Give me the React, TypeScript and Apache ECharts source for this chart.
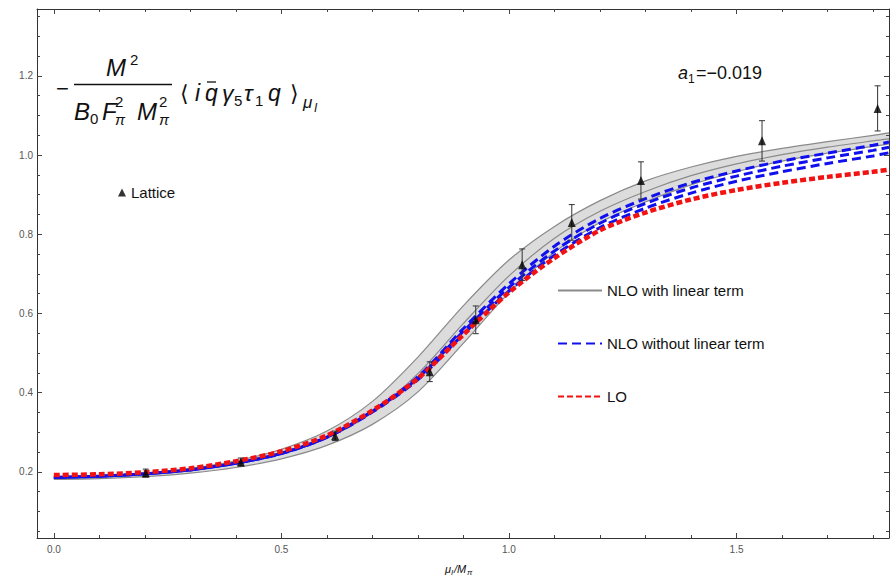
import React, { useEffect, useRef } from "react";
import * as echarts from "echarts";

// ---- data ----
const xs = [0, 0.1, 0.2, 0.3, 0.4, 0.5, 0.6, 0.7, 0.8, 0.9, 1.0, 1.1, 1.2, 1.3, 1.4, 1.5, 1.6, 1.7, 1.8, 1.835];

const bandUpper = [0.186, 0.189, 0.197, 0.209, 0.228, 0.257, 0.303, 0.378, 0.49, 0.62, 0.735, 0.82, 0.885, 0.935, 0.97, 0.997, 1.017, 1.034, 1.05, 1.056];
const nloCenter = [0.184, 0.187, 0.193, 0.204, 0.22, 0.245, 0.285, 0.35, 0.448, 0.575, 0.695, 0.79, 0.858, 0.908, 0.948, 0.978, 1.001, 1.02, 1.036, 1.041];
const bandLower = [0.181, 0.183, 0.188, 0.197, 0.211, 0.233, 0.267, 0.32, 0.402, 0.525, 0.652, 0.755, 0.83, 0.882, 0.925, 0.958, 0.985, 1.005, 1.022, 1.028];

const blueUpper = [0.186, 0.189, 0.195, 0.205, 0.222, 0.247, 0.288, 0.354, 0.44, 0.562, 0.675, 0.77, 0.84, 0.89, 0.93, 0.96, 0.985, 1.005, 1.025, 1.033];
const blueMid = [0.186, 0.189, 0.195, 0.205, 0.222, 0.247, 0.288, 0.353, 0.437, 0.555, 0.666, 0.758, 0.828, 0.878, 0.917, 0.947, 0.972, 0.993, 1.012, 1.02];
const blueLower = [0.186, 0.189, 0.195, 0.205, 0.222, 0.246, 0.287, 0.351, 0.433, 0.548, 0.657, 0.747, 0.817, 0.866, 0.904, 0.934, 0.958, 0.979, 0.998, 1.006];

const loCurve = [0.192, 0.194, 0.199, 0.209, 0.227, 0.252, 0.292, 0.355, 0.436, 0.547, 0.653, 0.74, 0.81, 0.855, 0.888, 0.912, 0.93, 0.945, 0.958, 0.963];

const latticeX = [0.202, 0.411, 0.618, 0.826, 0.927, 1.029, 1.138, 1.29, 1.556, 1.81];
const latticeY = [0.197, 0.225, 0.291, 0.453, 0.584, 0.723, 0.83, 0.936, 1.036, 1.118];
const latticeErr = [0.01, 0.01, 0.012, 0.025, 0.035, 0.04, 0.045, 0.047, 0.051, 0.057];

const xMajor = [0, 0.5, 1.0, 1.5];
const xMinor = [0.1, 0.2, 0.3, 0.4, 0.6, 0.7, 0.8, 0.9, 1.1, 1.2, 1.3, 1.4, 1.6, 1.7, 1.8];
const yMajor = [0.2, 0.4, 0.6, 0.8, 1.0, 1.2];
const yMinor = [0.05, 0.1, 0.15, 0.25, 0.3, 0.35, 0.45, 0.5, 0.55, 0.65, 0.7, 0.75, 0.85, 0.9, 0.95, 1.05, 1.1, 1.15, 1.25, 1.3, 1.35];

const X_MIN = -0.037;
const X_MAX = 1.835;
const Y_MIN = 0.033;
const Y_MAX = 1.369;

const FONT = '"Liberation Sans", Arial, sans-serif';
const SMOOTH = 0.3;

const pts = (ys: number[]) => xs.map((x, i) => [x, ys[i]]);

function makeX(position: "top" | "bottom", major: boolean, labels: boolean) {
  return {
    type: "value",
    position,
    min: X_MIN,
    max: X_MAX,
    z: 10,
    axisLine: { show: major, onZero: false, lineStyle: { color: "#333", width: 1 } },
    axisTick: {
      show: true,
      inside: true,
      length: major ? 5 : 3,
      customValues: major ? xMajor : xMinor,
      lineStyle: { color: "#444", width: 1 },
    },
    axisLabel: labels
      ? {
          show: true,
          customValues: xMajor,
          formatter: (v: number) => v.toFixed(1),
          color: "#555",
          fontSize: 10,
          fontFamily: FONT,
          margin: 6,
        }
      : { show: false },
    splitLine: { show: false },
  };
}

function makeY(position: "left" | "right", major: boolean, labels: boolean) {
  return {
    type: "value",
    position,
    min: Y_MIN,
    max: Y_MAX,
    z: 10,
    axisLine: { show: major, onZero: false, lineStyle: { color: "#333", width: 1 } },
    axisTick: {
      show: true,
      inside: true,
      length: major ? 5 : 3,
      customValues: major ? yMajor : yMinor,
      lineStyle: { color: "#444", width: 1 },
    },
    axisLabel: labels
      ? {
          show: true,
          customValues: yMajor,
          formatter: (v: number) => v.toFixed(1),
          color: "#555",
          fontSize: 10,
          fontFamily: FONT,
          margin: 4,
        }
      : { show: false },
    splitLine: { show: false },
  };
}

function txt(text: string, x: number, y: number, size: number, italic = false, family = FONT) {
  return {
    type: "text",
    x,
    y,
    silent: true,
    style: {
      text,
      font: `${italic ? "italic " : ""}${size}px ${family}`,
      fill: "#111",
      textAlign: "left",
      textVerticalAlign: "middle",
      verticalAlign: "middle",
    },
  };
}

export default function App() {
  const ref = useRef<HTMLDivElement>(null);

  useEffect(() => {
    if (!ref.current) return;
    const chart = echarts.init(ref.current, undefined, { renderer: "svg" });

    const gray = "#8a8a8a";
    const blue = "#1010ee";
    const red = "#f21212";

    const blueStyle = { color: blue, width: 3, type: [9, 5] as any };

    const option: any = {
      animation: false,
      backgroundColor: "#fff",
      grid: { left: 37, right: 1, top: 9, bottom: 39, containLabel: false },
      xAxis: [
        makeX("bottom", true, true),
        makeX("bottom", false, false),
        makeX("top", true, false),
        makeX("top", false, false),
      ],
      yAxis: [
        makeY("left", true, true),
        makeY("left", false, false),
        makeY("right", true, false),
        makeY("right", false, false),
      ],
      legend: [
        {
          data: ["NLO with linear term", "NLO without linear term", "LO"],
          orient: "vertical",
          left: 557,
          top: 283,
          padding: 0,
          itemWidth: 44,
          itemHeight: 14,
          itemGap: 38,
          selectedMode: false,
          itemStyle: { opacity: 0 },
          textStyle: { fontSize: 15, fontFamily: FONT, color: "#111" },
        },
        {
          data: ["Lattice"],
          left: 118,
          top: 185,
          padding: 0,
          itemWidth: 8,
          itemHeight: 8,
          selectedMode: false,
          textStyle: { fontSize: 15, fontFamily: FONT, color: "#111" },
        },
      ],
      series: [
        {
          name: "NLO band",
          type: "custom",
          data: [[0, 0]],
          encode: { x: 0, y: 1 },
          silent: true,
          z: 1,
          renderItem: (params: any, api: any) => {
            const up = xs.map((x, i) => api.coord([x, bandUpper[i]]));
            const lo = xs.map((x, i) => api.coord([x, bandLower[i]]));
            const poly = up.concat(lo.slice().reverse());
            return {
              type: "group",
              children: [
                { type: "polygon", shape: { points: poly, smooth: SMOOTH }, style: { fill: "#dcdcdc", stroke: "none" } },
                { type: "polyline", shape: { points: up, smooth: SMOOTH }, style: { stroke: gray, lineWidth: 1.2, fill: "none" } },
                { type: "polyline", shape: { points: lo, smooth: SMOOTH }, style: { stroke: gray, lineWidth: 1.2, fill: "none" } },
              ],
            };
          },
        },
        {
          name: "NLO with linear term",
          type: "line",
          data: pts(nloCenter),
          symbol: "none",
          smooth: SMOOTH,
          lineStyle: { color: gray, width: 1.2 },
          itemStyle: { color: gray },
        },
        {
          name: "NLO without linear term",
          type: "line",
          data: pts(blueUpper),
          symbol: "none",
          smooth: SMOOTH,
          lineStyle: blueStyle,
          itemStyle: { color: blue },
        },
        {
          name: "NLO without linear term",
          type: "line",
          data: pts(blueMid),
          symbol: "none",
          smooth: SMOOTH,
          lineStyle: { ...blueStyle, dashOffset: 5 },
          itemStyle: { color: blue },
        },
        {
          name: "NLO without linear term",
          type: "line",
          data: pts(blueLower),
          symbol: "none",
          smooth: SMOOTH,
          lineStyle: { ...blueStyle, dashOffset: 10 },
          itemStyle: { color: blue },
        },
        {
          name: "LO",
          type: "line",
          data: pts(loCurve),
          symbol: "none",
          smooth: SMOOTH,
          lineStyle: { color: red, width: 4.5, type: [6, 3] },
          itemStyle: { color: red },
        },
        {
          name: "errors",
          type: "custom",
          data: latticeX.map((x, i) => [x, latticeY[i], latticeErr[i]]),
          encode: { x: 0, y: 1 },
          silent: true,
          z: 5,
          renderItem: (params: any, api: any) => {
            const x = api.value(0);
            const y = api.value(1);
            const e = api.value(2);
            const top = api.coord([x, y + e]);
            const bot = api.coord([x, y - e]);
            const cap = 3;
            const st = { stroke: "#333", lineWidth: 1 };
            return {
              type: "group",
              children: [
                { type: "line", shape: { x1: top[0], y1: top[1], x2: bot[0], y2: bot[1] }, style: st },
                { type: "line", shape: { x1: top[0] - cap, y1: top[1], x2: top[0] + cap, y2: top[1] }, style: st },
                { type: "line", shape: { x1: bot[0] - cap, y1: bot[1], x2: bot[0] + cap, y2: bot[1] }, style: st },
              ],
            };
          },
        },
        {
          name: "Lattice",
          type: "scatter",
          data: latticeX.map((x, i) => [x, latticeY[i]]),
          symbol: "triangle",
          symbolSize: [8, 9],
          z: 6,
          itemStyle: { color: "#000" },
        },
      ],
      graphic: [
        txt("\u2212", 56, 88, 22),
        { type: "line", silent: true, shape: { x1: 74, y1: 84.5, x2: 172, y2: 84.5 }, style: { stroke: "#111", lineWidth: 1.5 } },
        txt("M", 106, 67, 24, true),
        txt("2", 130, 59, 15),
        txt("B", 74, 111, 24, true),
        txt("0", 90, 118, 15),
        txt("F", 102, 111, 24, true),
        txt("2", 115, 101, 15),
        txt("\u03c0", 115, 119, 15, true),
        txt("M", 137, 111, 24, true),
        txt("2", 159, 101, 15),
        txt("\u03c0", 159, 119, 15, true),
        txt("\u27e8", 180, 93, 22, false, '"DejaVu Sans", sans-serif'),
        txt("i", 195, 93, 23, true),
        txt("q", 205, 93, 23, true),
        { type: "line", silent: true, shape: { x1: 207, y1: 82, x2: 216, y2: 82 }, style: { stroke: "#111", lineWidth: 1.3 } },
        txt("\u03b3", 222, 93, 23, true),
        txt("5", 234, 100, 15),
        txt("\u03c4", 244, 93, 23, true),
        txt("1", 255, 100, 15),
        txt("q", 268, 93, 23, true),
        txt("\u27e9", 290, 93, 22, false, '"DejaVu Sans", sans-serif'),
        txt("\u03bc", 303, 102, 17, true),
        txt("I", 314, 108, 12, true),
        txt("a", 678, 73, 18, true),
        txt("1", 688, 79, 12),
        txt("=\u22120.019", 696, 73, 18),
        txt("\u03bc", 445, 569, 11, true),
        txt("I", 451, 572, 8, true),
        txt("/M", 454, 569, 11, true),
        txt("\u03c0", 467, 572, 8, true),
      ],
    };

    chart.setOption(option);
    return () => chart.dispose();
  }, []);

  return (
    <div
      ref={ref}
      style={{ position: "fixed", left: 0, top: 0, width: 890, height: 577, background: "#fff" }}
    />
  );
}
